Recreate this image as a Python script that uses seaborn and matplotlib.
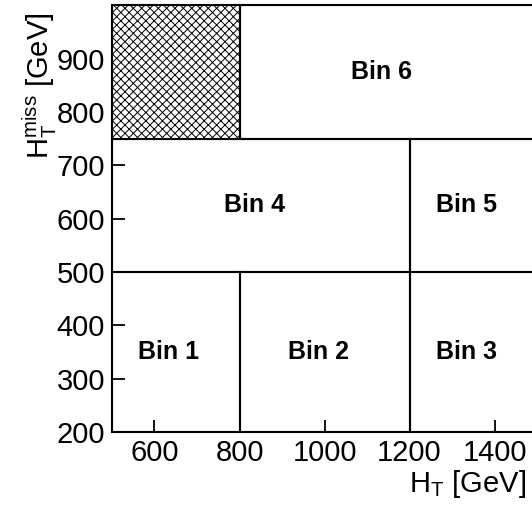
import matplotlib
matplotlib.use("Agg")
import matplotlib.pyplot as plt
import seaborn as sns
import numpy as np

# bin definitions (HT low, HT high, MHT low, MHT high)
bin_names = ["Bin 1", "Bin 2", "Bin 3", "Bin 4", "Bin 5", "Bin 6"]
ht_lo = [500, 800, 1200, 500, 1200, 800]
ht_hi = [800, 1200, 1500, 1200, 1500, 1500]
mht_lo = [200, 200, 200, 500, 500, 750]
mht_hi = [500, 500, 500, 750, 750, 1000]
# label positions
label_x = [633, 985, 1335, 835, 1335, 1135]
label_y = [350, 350, 350, 625, 625, 875]
# excluded (hatched) region
excl_ht = [500, 800]
excl_mht = [750, 1000]

xticks = [600, 800, 1000, 1200, 1400]
yticks = [200, 300, 400, 500, 600, 700, 800, 900]

sns.set_theme(style="ticks")
plt.rcParams["font.family"] = ["Liberation Sans", "DejaVu Sans"]
plt.rcParams["mathtext.fontset"] = "custom"
plt.rcParams["mathtext.rm"] = "Liberation Sans"
plt.rcParams["mathtext.it"] = "Liberation Sans"
plt.rcParams["hatch.linewidth"] = 0.7
plt.rcParams["text.color"] = "black"
plt.rcParams["axes.labelcolor"] = "black"
plt.rcParams["xtick.color"] = "black"
plt.rcParams["ytick.color"] = "black"

fig = plt.figure(figsize=(5.32, 5.12), dpi=100)
ax = fig.add_axes([0.2105, 0.15625, 0.799, 0.8333])

for i in range(len(bin_names)):
    ax.add_patch(plt.Rectangle((ht_lo[i], mht_lo[i]), ht_hi[i] - ht_lo[i],
                               mht_hi[i] - mht_lo[i], fill=False,
                               edgecolor="black", linewidth=1.5))
    ax.text(label_x[i], label_y[i], bin_names[i], ha="center", va="center",
            fontsize=18, fontweight="bold", color="black")

ax.fill_between(excl_ht, excl_mht[0], excl_mht[1], facecolor="white",
                edgecolor="black", hatch="xxxx", linewidth=1.5)

ax.set_xlim(500, 1500)
ax.set_ylim(200, 1000)
ax.set_xticks(xticks)
ax.set_yticks(yticks)
ax.tick_params(direction="in", length=9, width=1.3, labelsize=21,
               colors="black", pad=5)
for s in ax.spines.values():
    s.set_linewidth(1.5)
    s.set_color("black")
ax.spines["right"].set_visible(False)

ax.set_xlabel(r"H$_{\mathregular{T}}$ [GeV]", fontsize=21, loc="right",
              color="black")
ax.set_ylabel(r"H$_{\mathregular{T}}^{\mathregular{miss}}$ [GeV]", fontsize=21,
              loc="top", color="black")
ax.xaxis.set_label_coords(0.975, -0.085)
ax.yaxis.set_label_coords(-0.125, 0.984)

fig.savefig("out.png", dpi=100)
